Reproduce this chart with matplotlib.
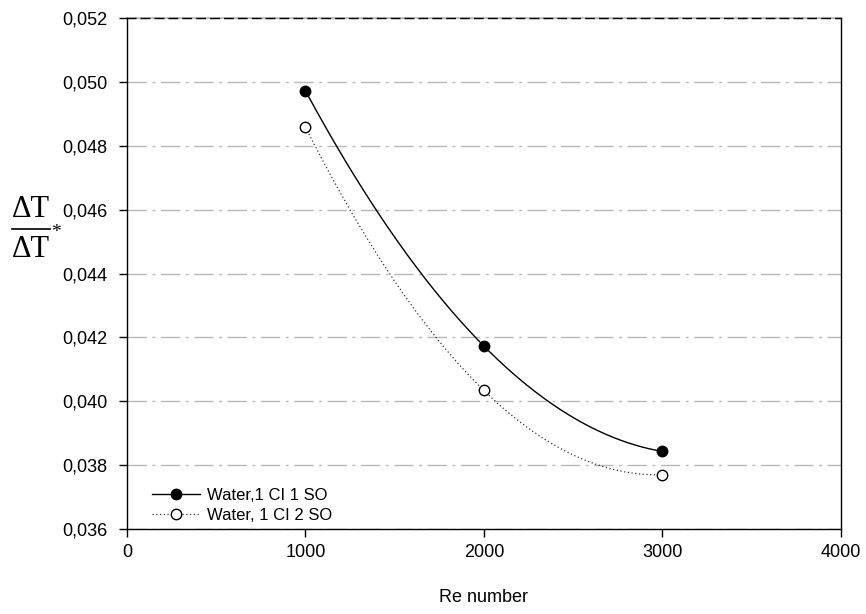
import matplotlib
matplotlib.use("Agg")
import matplotlib.pyplot as plt
import numpy as np
from matplotlib.ticker import FuncFormatter
from matplotlib.lines import Line2D

# data
re_number = [1000, 2000, 3000]
one_so = [0.04972, 0.04173, 0.03843]
two_so = [0.04858, 0.04034, 0.03770]
labels = ["Water,1 CI 1 SO", "Water, 1 CI 2 SO"]

plt.rcParams["font.family"] = ["Liberation Sans", "DejaVu Sans"]

fig = plt.figure(figsize=(8.66, 6.14), dpi=100)
ax = fig.add_axes([0.1467, 0.1384, 0.824, 0.8323])


def smooth(x, y):
    # quadratic through the three points, like the spline in the original
    c = np.polyfit(x, y, 2)
    xs = np.linspace(x[0], x[-1], 200)
    return xs, np.polyval(c, xs)


xs, ys = smooth(re_number, one_so)
ax.plot(xs, ys, color="black", lw=1.0, zorder=3)
xs, ys = smooth(re_number, two_so)
ax.plot(xs, ys, color="#333333", lw=0.9, ls=(0, (1, 2)), zorder=3)

ax.plot(re_number, one_so, "o", color="black", ms=7.5, zorder=4)
ax.plot(re_number, two_so, "o", mfc="white", mec="black", mew=1.0, ms=7.5, zorder=4)

ax.set_xlim(0, 4000)
ax.set_ylim(0.036, 0.052)
ax.set_xticks([0, 1000, 2000, 3000, 4000])
ax.set_yticks(np.arange(0.036, 0.0521, 0.002))
ax.yaxis.set_major_formatter(FuncFormatter(lambda v, p: ("%.3f" % v).replace(".", ",")))
ax.tick_params(direction="out", length=6, width=1, labelsize=13, colors="black")
ax.tick_params(axis="x", pad=5)
ax.tick_params(axis="y", pad=8)

ax.grid(axis="y", color="#b8b8b8", lw=1.0, ls=(0, (14, 4, 2, 4)))
ax.axhline(0.052, color="#b8b8b8", lw=1.2, zorder=1, clip_on=False)
ax.spines["top"].set_linestyle((0, (6, 4)))
ax.spines["top"].set_linewidth(1.0)
for s in ["left", "right", "bottom"]:
    ax.spines[s].set_linewidth(1.0)

ax.set_xlabel("Re number", fontsize=13, labelpad=20)

# y label: fraction dT / dT*
fig.text(0.0139, 0.658, "\u0394T", fontsize=22, family="Liberation Serif",
         ha="left", va="center")
fig.add_artist(Line2D([0.0139, 0.058], [0.627, 0.627], color="black", lw=1.2))
fig.text(0.0139, 0.594, "\u0394T", fontsize=22, family="Liberation Serif",
         ha="left", va="center")
fig.text(0.0595, 0.622, "*", fontsize=14, family="Liberation Serif",
         ha="left", va="center")

handles = [
    Line2D([], [], color="black", lw=1.0, marker="o", ms=7.5),
    Line2D([], [], color="#333333", lw=0.9, ls=(0, (1, 2)), marker="o",
           mfc="white", mec="black", ms=7.5),
]
ax.legend(handles, labels, loc="lower left", bbox_to_anchor=(0.035, 0.012),
          frameon=False, fontsize=12, handlelength=2.9, handletextpad=0.4,
          labelspacing=0.3, borderaxespad=0, borderpad=0)

fig.savefig("out.png", dpi=100)
